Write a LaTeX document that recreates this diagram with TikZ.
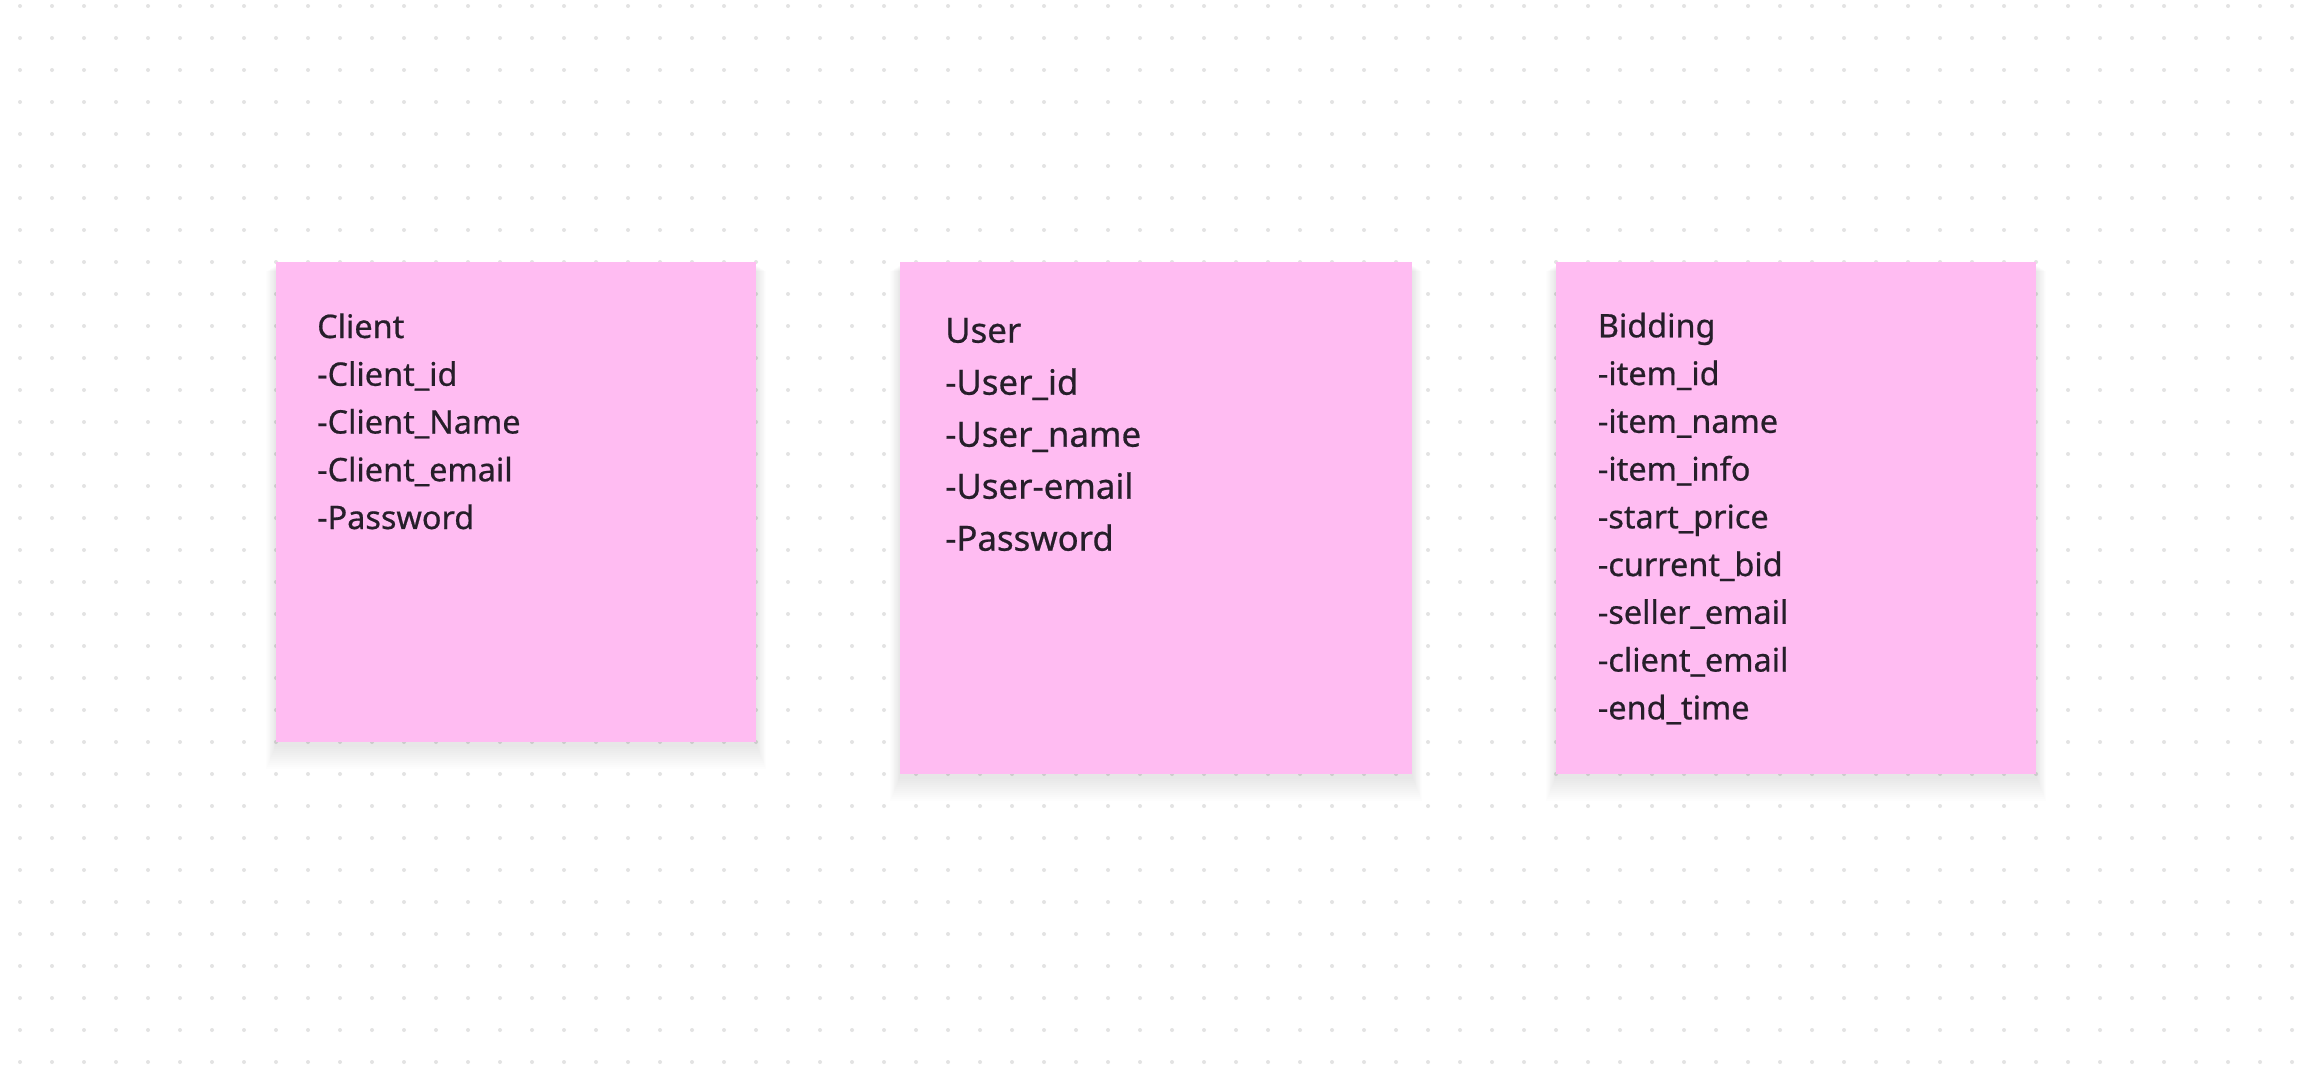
\documentclass[tikz,border=0pt]{standalone}
\usepackage{fontspec}
\setmainfont{Noto Sans}[FakeBold=0.6]
\usetikzlibrary{calc}
\definecolor{stickypink}{HTML}{FFBCF2}
\definecolor{dotgrey}{HTML}{E3E3E3}
\definecolor{inktext}{HTML}{261E2A}
\pgfdeclarelayer{dots}
\pgfdeclarelayer{shade}
\pgfsetlayers{dots,shade,main}
\newcommand\stickyshadow[1]{%
  \foreach \s in {1,...,12}
    \fill[black,opacity=0.009] ($(#1.north west)+(-0.8*\s,3+0.5*\s)$) rectangle ($(#1.south east)+(0.8*\s,3+2*\s)$);}
\begin{document}
\begin{tikzpicture}[x=1pt,y=-1pt,
  sticky/.style={fill=stickypink, draw=none, rectangle, anchor=north west, inner sep=0pt},
  linetext/.style={anchor=base west, inner sep=0pt, text=inktext, font=\fontsize{32.4}{38}\selectfont},
  bigtext/.style={linetext, font=\fontsize{34.8}{41}\selectfont}]
\begin{pgfonlayer}{dots}
\useasboundingbox[fill=white] (0,0) rectangle (2312,1068);
\foreach \i in {0,...,71}{\foreach \j in {0,...,33}{\fill[dotgrey] (20+32*\i, 6+32*\j) circle[radius=2];}}
\end{pgfonlayer}
% stickies
\node[sticky, minimum width=480pt, minimum height=480pt] (client) at (276,262) {};
\node[sticky, minimum width=512pt, minimum height=512pt] (user) at (900,262) {};
\node[sticky, minimum width=480pt, minimum height=512pt] (bidding) at (1556,262) {};
\begin{pgfonlayer}{shade}
\stickyshadow{client}
\stickyshadow{user}
\stickyshadow{bidding}
\end{pgfonlayer}
% texts
\foreach \t [count=\k from 0] in {Client,-Client\_id,-Client\_Name,-Client\_email,-Password}
  \node[linetext] (client-\k) at (317, 338+47.75*\k) {\t};
\foreach \t [count=\k from 0] in {User,-User\_id,-User\_name,-User-email,-Password}
  \node[bigtext] (user-\k) at (945, 342.7+52*\k) {\t};
\foreach \t [count=\k from 0] in {Bidding,-item\_id,-item\_name,-item\_info,-start\_price,-current\_bid,-seller\_email,-client\_email,-end\_time}
  \node[linetext] (bidding-\k) at (1597.7, 337.3+47.75*\k) {\t};
\end{tikzpicture}
\end{document}
